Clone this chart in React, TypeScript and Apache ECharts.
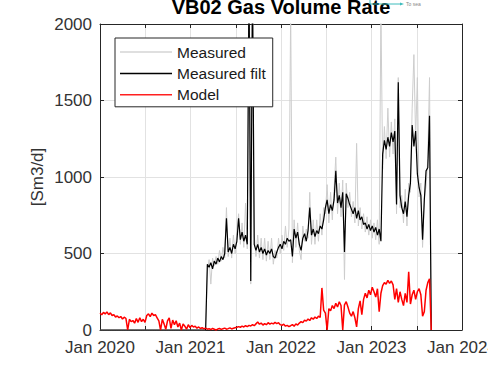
import React, { useEffect, useRef } from "react";
import * as echarts from "echarts";

// ---- data (weekly samples starting 2020-01-01) ----
const START_DATE = "2020-01-01";
const STEP_DAYS = 7;

const measured = [
  0, 0, 0, 0, 0, 0, 0, 0, 0, 0,
  0, 0, 0, 0, 0, 0, 0, 0, 0, 0,
  0, 0, 0, 0, 0, 0, 0, 0, 0, 0,
  0, 0, 0, 0, 0, 0, 0, 0, 0, 0,
  0, 0, 0, 0, 0, 0, 0, 0, 0, 0,
  0, 0, 0, 0, 0, 0, 0, 0, 0, 0,
  0, 0, 380, 460, 300, 470, 420, 480, 430, 520,
  450, 540, 470, 800, 480, 600, 470, 620, 500, 640,
  760, 560, 700, 540, 830, 530, 2300, 300, 2300, 620,
  480, 620, 470, 600, 460, 600, 450, 580, 460, 600,
  430, 520, 470, 600, 500, 620, 520, 680, 540, 660,
  2100, 440, 720, 540, 700, 520, 460, 680, 580, 660,
  600, 900, 560, 720, 560, 720, 580, 760, 620, 800,
  760, 950, 700, 900, 720, 920, 1130, 760, 960, 740,
  980, 330, 960, 800, 900, 740, 840, 700, 1220, 680,
  800, 660, 760, 640, 740, 620, 720, 600, 700, 590,
  720, 560, 2100, 1050, 1330, 1120, 1450, 1130, 1360, 1150,
  1380, 760, 1650, 800, 880, 700, 920, 680, 960, 900,
  1450, 1800, 1250, 1650, 870, 960, 540, 860, 940, 1120,
  1650, 0,
];

const measuredFilt = [
  0, 0, 0, 0, 0, 0, 0, 0, 0, 0,
  0, 0, 0, 0, 0, 0, 0, 0, 0, 0,
  0, 0, 0, 0, 0, 0, 0, 0, 0, 0,
  0, 0, 0, 0, 0, 0, 0, 0, 0, 0,
  0, 0, 0, 0, 0, 0, 0, 0, 0, 0,
  0, 0, 0, 0, 0, 0, 0, 0, 0, 0,
  0, 0, 430, 410, 440, 400, 450, 430, 470, 445,
  480, 460, 500, 730, 510, 540, 500, 560, 530, 580,
  730, 590, 640, 580, 620, 560, 2300, 320, 2300, 560,
  520, 560, 510, 540, 500, 530, 490, 520, 500, 530,
  480, 470, 510, 540, 560, 530, 580, 560, 600, 580,
  590, 480, 660, 600, 640, 560, 520, 600, 630, 580,
  650, 800, 620, 660, 610, 650, 630, 680, 660, 720,
  800, 850, 760, 820, 780, 850, 1040, 830, 880, 800,
  900, 510, 890, 860, 820, 790, 760, 800, 730, 780,
  720, 740, 690, 700, 660, 690, 650, 680, 640, 670,
  620, 660, 580, 1150, 1240, 1180, 1260, 1200, 1290, 1230,
  1300, 820, 1620, 880, 800, 760, 840, 740, 880, 960,
  1340, 1200, 1300, 1020, 930, 880, 590, 850, 1040, 1060,
  1400, 0,
];

const model = [
  110, 100, 115, 105, 118, 100, 112, 95, 100, 85,
  92, 80, 88, 72, 84, 75, 0, 70, 55, 62,
  45, 75, 50, 80, 55, 70, 50, 95, 105, 88,
  110, 95, 100, 80, 60, 0, 70, 40, 5, 60,
  80, 10, 65, 35, 60, 20, 45, 0, 40, 25,
  5, 35, 15, 30, 20, 25, 12, 20, 10, 15,
  8, 12, 5, 8, 3, 10, 5, 0, 6, 10,
  4, 8, 12, 5, 9, 14, 7, 11, 15, 18,
  22, 18, 25, 20, 28, 22, 30, 26, 35, 28,
  40, 52, 38, 45, 32, 42, 35, 48, 38, 45,
  40, 50, 42, 48, 35, 30, 38, 25, 30, 22,
  28, 35, 25, 40, 32, 45, 55, 48, 65, 58,
  72, 62, 80, 70, 85, 75, 90, 82, 275, 130,
  110, 0, 140, 125, 160, 140, 175, 150, 185, 160,
  0, 165, 185, 150, 110, 90, 120, 80, 20, 140,
  190, 100, 200, 240, 210, 260, 230, 280, 250, 215,
  270, 120, 240, 290, 310, 300, 325, 305, 320, 295,
  200, 270, 180, 250, 200, 160, 240, 180, 380, 170,
  230, 260, 200, 250, 270, 230, 90, 120, 260, 310,
  335, 0,
];

const seriesNames = ["Measured", "Measured filt", "Model"];
const X_MIN_YEAR = 2020;
const X_MAX_YEAR = 2024;
const Y_MIN = 0;
const Y_MAX = 2000;
const Y_STEP = 500;
const TITLE = "VB02 Gas Volume Rate";
const Y_LABEL = "[Sm3/d]";
const ANNOT = "To sea";

const FONT = "'Liberation Sans', Arial, Helvetica, sans-serif";

function yearFrac(ms: number): number {
  const d = new Date(ms);
  const y = d.getUTCFullYear();
  const s = Date.UTC(y, 0, 1);
  const e = Date.UTC(y + 1, 0, 1);
  return y + (ms - s) / (e - s);
}

function sampleX(i: number): number {
  const t0 = Date.parse(START_DATE + "T00:00:00Z");
  return yearFrac(t0 + i * STEP_DAYS * 86400000);
}

function toPairs(arr: number[]) {
  return arr.map((v, i) => [sampleX(i), v]);
}

export default function App() {
  const ref = useRef<HTMLDivElement>(null);

  useEffect(() => {
    if (!ref.current) return;
    const chart = echarts.init(ref.current, undefined, { renderer: "svg" });
    const axisColor = "#262626";
    const labelColor = "#333333";
    const gridColor = "#e2e2e2";

    const xBase = {
      type: "value" as const,
      min: X_MIN_YEAR,
      max: X_MAX_YEAR,
      interval: 0.5,
      axisLine: { show: true, onZero: false, lineStyle: { color: axisColor, width: 1 } },
      axisTick: { show: true, inside: true, length: 4, lineStyle: { color: axisColor } },
    };
    const yBase = {
      type: "value" as const,
      min: Y_MIN,
      max: Y_MAX,
      interval: Y_STEP,
      axisLine: { show: true, onZero: false, lineStyle: { color: axisColor, width: 1 } },
      axisTick: { show: true, inside: true, length: 4, lineStyle: { color: axisColor } },
    };

    chart.setOption({
      animation: false,
      backgroundColor: "#ffffff",
      grid: {
        left: 100,
        right: 26,
        top: 24,
        bottom: 45,
        containLabel: false,
        outerBoundsMode: "none",
      },
      xAxis: [
        {
          ...xBase,
          position: "bottom",
          axisLabel: {
            formatter: (v: number) => (Math.abs(v - Math.round(v)) < 1e-6 ? "Jan " + Math.round(v) : ""),
            fontSize: 17,
            color: labelColor,
            fontFamily: FONT,
            margin: 9,
            showMaxLabel: true,
            showMinLabel: true,
            hideOverlap: false,
          },
          splitLine: { show: true, lineStyle: { color: gridColor, width: 1 } },
        },
        {
          ...xBase,
          position: "top",
          axisLabel: { show: false },
          splitLine: { show: false },
        },
      ],
      yAxis: [
        {
          ...yBase,
          position: "left",
          axisLabel: {
            fontSize: 17,
            color: labelColor,
            fontFamily: FONT,
            margin: 8,
            formatter: (v: number) => String(v),
          },
          splitLine: { show: true, lineStyle: { color: gridColor, width: 1 } },
        },
        {
          ...yBase,
          position: "right",
          axisLabel: { show: false },
          splitLine: { show: false },
        },
      ],
      legend: {
        orient: "vertical",
        left: 115,
        top: 38,
        data: seriesNames,
        icon: "rect",
        backgroundColor: "#ffffff",
        borderColor: axisColor,
        borderWidth: 1,
        borderRadius: 0,
        padding: [4, 7, 2, 5],
        itemWidth: 52,
        itemHeight: 1.5,
        itemGap: 1.4,
        textStyle: { fontSize: 15.5, fontFamily: FONT, color: "#1a1a1a", lineHeight: 20 },
        selectedMode: false,
      },
      series: [
        {
          name: seriesNames[0],
          type: "line",
          data: toPairs(measured),
          symbol: "none",
          showSymbol: false,
          clip: true,
          lineStyle: { color: "#cdcdcd", width: 1 },
          itemStyle: { color: "#d4d4d4" },
          z: 2,
        },
        {
          name: seriesNames[1],
          type: "line",
          data: toPairs(measuredFilt),
          symbol: "none",
          showSymbol: false,
          clip: true,
          lineStyle: { color: "#000000", width: 1.2 },
          itemStyle: { color: "#000000" },
          z: 3,
        },
        {
          name: seriesNames[2],
          type: "line",
          data: toPairs(model),
          symbol: "none",
          showSymbol: false,
          clip: true,
          lineStyle: { color: "#ff0000", width: 1.5 },
          itemStyle: { color: "#ff2020" },
          z: 4,
        },
      ],
      graphic: [
        {
          type: "text",
          x: 281,
          y: 7,
          style: {
            text: TITLE,
            fontSize: 20,
            fontWeight: "bold",
            fontFamily: FONT,
            fill: "#000000",
            align: "center",
            verticalAlign: "middle",
          },
        },
        {
          type: "text",
          x: 37,
          y: 177,
          rotation: Math.PI / 2,
          style: {
            text: Y_LABEL,
            fontSize: 17,
            fontFamily: FONT,
            fill: labelColor,
            align: "center",
            verticalAlign: "middle",
          },
        },
        {
          type: "polyline",
          shape: { points: [[370, 0], [370, 4], [401, 4]] },
          style: { stroke: "#3cbcbc", lineWidth: 1, fill: "none" },
        },
        {
          type: "polygon",
          shape: { points: [[400, 2.5], [404, 4], [400, 5.5]] },
          style: { fill: "#3cbcbc" },
        },
        {
          type: "text",
          x: 406,
          y: 4,
          style: { text: ANNOT, fontSize: 5, fontFamily: FONT, fill: "#888888", verticalAlign: "middle" },
        },
      ],
    });

    return () => chart.dispose();
  }, []);

  return (
    <div
      ref={ref}
      style={{ position: "fixed", left: 0, top: 0, width: 488, height: 375, background: "#fff" }}
    />
  );
}
